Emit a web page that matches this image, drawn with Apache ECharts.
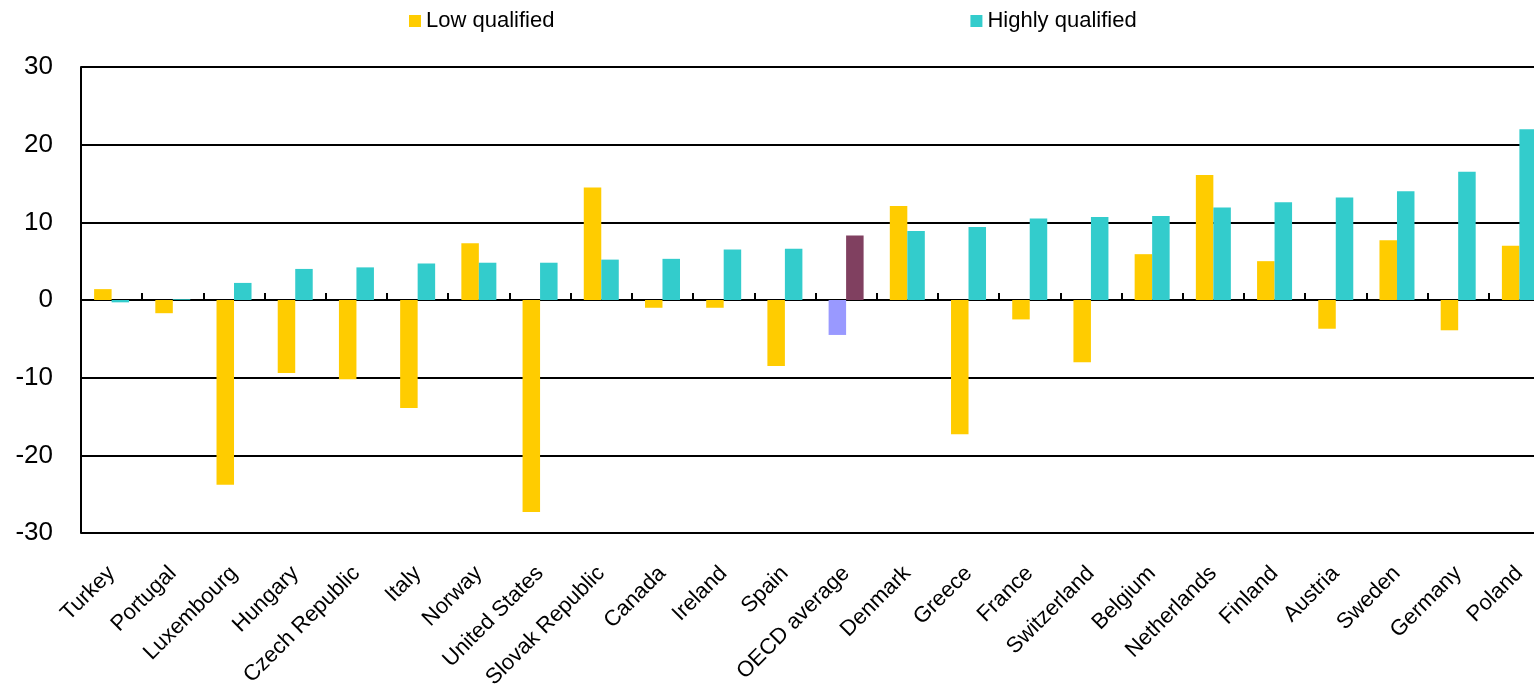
<!DOCTYPE html>
<html>
<head>
<meta charset="utf-8">
<script src="https://cdn.jsdelivr.net/npm/echarts@6/dist/echarts.min.js"></script>
<style>
html,body{margin:0;padding:0;background:#fff;overflow:hidden;width:1534px;height:686px;}
#chart{width:1550px;height:686px;}
</style>
</head>
<body>
<div id="chart"></div>
<script>
const categories = ['Turkey','Portugal','Luxembourg','Hungary','Czech Republic','Italy','Norway','United States','Slovak Republic','Canada','Ireland','Spain','OECD average','Denmark','Greece','France','Switzerland','Belgium','Netherlands','Finland','Austria','Sweden','Germany','Poland'];
const lowQualified = [1.4,-1.7,-23.8,-9.4,-10.2,-13.9,7.3,-27.3,14.5,-1.0,-1.0,-8.5,-4.5,12.1,-17.3,-2.5,-8.0,5.9,16.1,5.0,-3.7,7.7,-3.9,7.0];
const highlyQualified = [-0.3,0.1,2.2,4.0,4.2,4.7,4.8,4.8,5.2,5.3,6.5,6.6,8.3,8.9,9.4,10.5,10.7,10.8,11.9,12.6,13.2,14.0,16.5,22.0];
const yTicks = [-30,-20,-10,0,10,20,30];
const seriesNames = ['Low qualified','Highly qualified'];

const LOW_COLOR = '#FFCC00', HIGH_COLOR = '#33CCCC';
const OECD_LOW = '#9999FF', OECD_HIGH = '#804060';
const FONT = 'Liberation Sans, Arial, sans-serif';

function build(values, special) {
  return values.map((v, i) => categories[i] === 'OECD average'
    ? { value: v, itemStyle: { color: special } } : v);
}

const chart = echarts.init(document.getElementById('chart'), null, { renderer: 'canvas' });
chart.setOption({
  animation: false,
  textStyle: { fontFamily: FONT },
  legend: {
    data: seriesNames,
    left: 409, top: 10, padding: 0,
    itemWidth: 12, itemHeight: 12, itemGap: 416,
    icon: 'rect',
    textStyle: { fontSize: 22, color: '#000', fontFamily: FONT }
  },
  grid: { left: 81, width: 1469, top: 67, bottom: 153, containLabel: false, outerBoundsMode: 'none' },
  xAxis: [{
    type: 'category', data: categories, position: 'bottom',
    axisLine: { show: false, onZero: false },
    axisTick: { show: false },
    axisLabel: { interval: 0, rotate: 45, fontSize: 22, color: '#000', margin: 37, fontFamily: FONT },
    splitLine: { show: false }
  }, {
    type: 'category', data: categories, position: 'bottom',
    axisLine: { show: true, onZero: true, lineStyle: { color: '#000', width: 2 } },
    axisTick: { show: true, inside: true, interval: 0, length: 7, lineStyle: { color: '#000', width: 2 } },
    axisLabel: { show: false }
  }],
  yAxis: {
    type: 'value', min: yTicks[0], max: yTicks[yTicks.length-1], interval: 10,
    axisLine: { show: true, lineStyle: { color: '#000', width: 2 } },
    axisTick: { show: false },
    axisLabel: { fontSize: 26, color: '#000', margin: 28, fontFamily: FONT },
    splitLine: { show: true, lineStyle: { color: '#000', width: 2 } }
  },
  series: [{
    name: seriesNames[0], type: 'bar', xAxisIndex: 0,
    data: build(lowQualified, OECD_LOW),
    itemStyle: { color: LOW_COLOR },
    barWidth: 17.5, barGap: '0%'
  }, {
    name: seriesNames[1], type: 'bar', xAxisIndex: 0,
    data: build(highlyQualified, OECD_HIGH),
    itemStyle: { color: HIGH_COLOR },
    barWidth: 17.5, barGap: '0%'
  }]
});
</script>
</body>
</html>
